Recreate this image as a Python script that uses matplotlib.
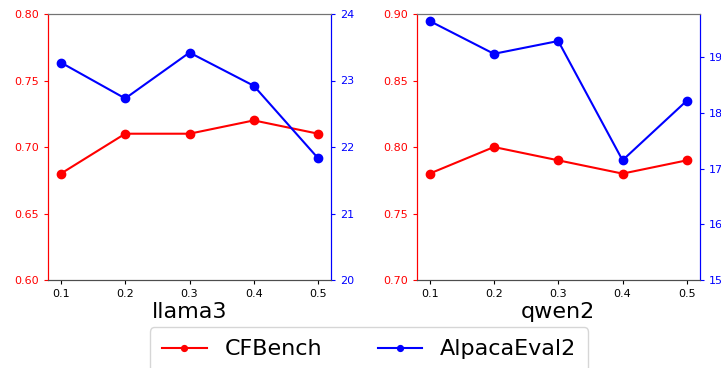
import numpy as np
import matplotlib
matplotlib.use("Agg")
import matplotlib.pyplot as plt

# data
x = [0.1, 0.2, 0.3, 0.4, 0.5]
models = ["llama3", "qwen2"]
cfbench = {"llama3": [0.68, 0.71, 0.71, 0.72, 0.71],
           "qwen2": [0.78, 0.80, 0.79, 0.78, 0.79]}
alpaca = {"llama3": [23.27, 22.73, 23.42, 22.92, 21.83],
          "qwen2": [19.65, 19.06, 19.29, 17.15, 18.22]}
left_lims = {"llama3": (0.60, 0.80), "qwen2": (0.70, 0.90)}
left_ticks = {"llama3": [0.60, 0.65, 0.70, 0.75, 0.80],
              "qwen2": [0.70, 0.75, 0.80, 0.85, 0.90]}
right_lims = {"llama3": (20, 24), "qwen2": (15, None)}
right_ticks = {"llama3": [20, 21, 22, 23, 24], "qwen2": [15, 16, 17, 18, 19]}

fig = plt.figure(figsize=(7.21, 3.68), dpi=100)
positions = [[0.0666, 0.239, 0.3925, 0.723], [0.578, 0.239, 0.3925, 0.723]]

for m, pos in zip(models, positions):
    ax = fig.add_axes(pos)
    ax2 = ax.twinx()
    l1, = ax.plot(x, cfbench[m], 'r-o', lw=1.5, ms=6, label='CFBench')
    l2, = ax2.plot(x, alpaca[m], 'b-o', lw=1.5, ms=6, label='AlpacaEval2')
    ax.set_ylim(*left_lims[m])
    ax.set_yticks(left_ticks[m])
    ax.set_yticklabels(['%.2f' % v for v in left_ticks[m]])
    lo, hi = right_lims[m]
    if hi is None:
        ax2.set_ylim(bottom=lo)
    else:
        ax2.set_ylim(lo, hi)
    ax2.set_yticks(right_ticks[m])
    ax.set_xticks(x)
    ax.set_xlabel(m, fontsize=16, labelpad=2)
    ax.tick_params(axis='y', colors='red', labelsize=8, length=3)
    ax.tick_params(axis='x', labelsize=8, length=3)
    ax2.tick_params(axis='y', colors='blue', labelsize=8, length=3)
    for a in (ax, ax2):
        a.spines['left'].set_color('red')
        a.spines['right'].set_color('blue')
        a.spines['top'].set_color('0.45')
        a.spines['bottom'].set_color('0.3')

fig.legend([l1, l2], ['CFBench', 'AlpacaEval2'], loc='lower center',
           bbox_to_anchor=(0.512, -0.04), ncol=2, fontsize=16,
           markerscale=0.7, columnspacing=2.5, borderpad=0.55)

fig.savefig('out.png', dpi=100)
